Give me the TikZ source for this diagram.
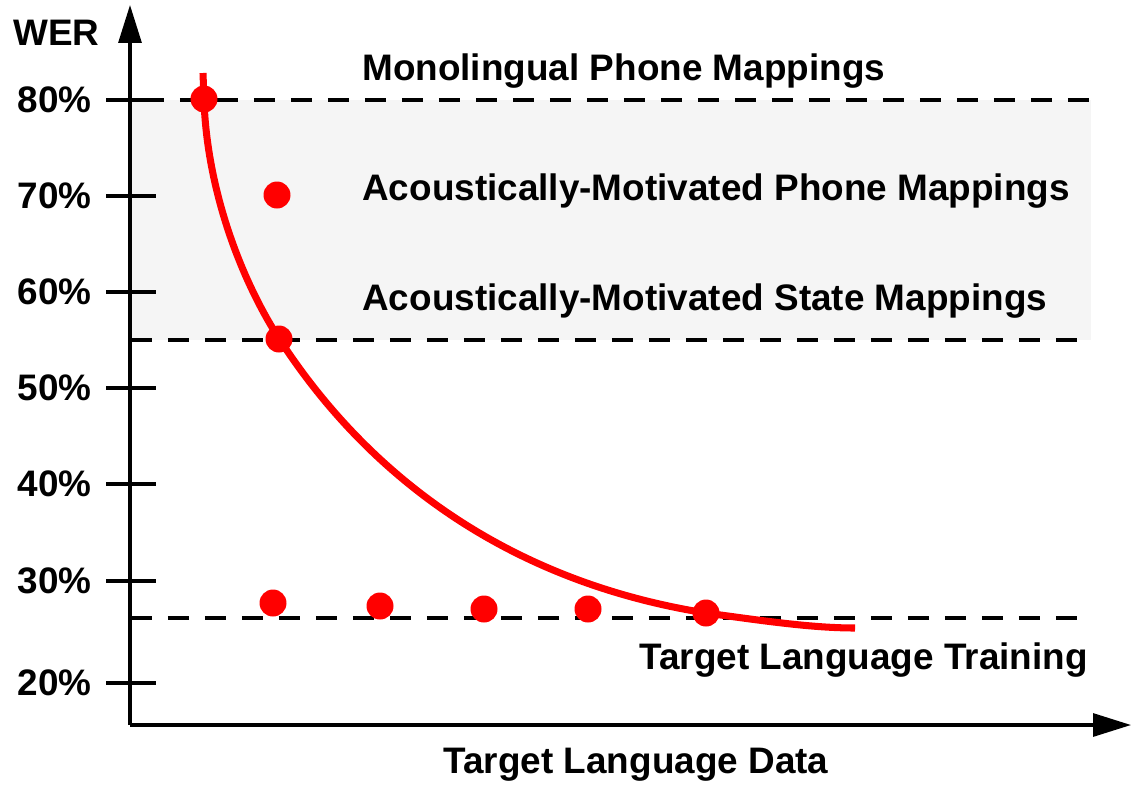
\documentclass[tikz,border=0pt]{standalone}
\usepackage{fontspec}
\setmainfont{Liberation Sans}
\usetikzlibrary{arrows.meta}
\definecolor{bandgray}{HTML}{F5F5F5}
\tikzset{
  lbl/.style={font=\fontsize{21}{25}\selectfont\bfseries, inner sep=0pt},
  werdot/.style={circle, fill=red, minimum size=0.54cm, inner sep=0pt},
  refline/.style={line width=2pt, dash pattern=on 0.42cm off 0.32cm},
  axis/.style={line width=1.8pt, -{Triangle[length=0.76cm,width=0.46cm]}}
}
\begin{document}
\begin{tikzpicture}[x=0.02cm, y=-0.02cm]
        % Page size
        \useasboundingbox (0,0) rectangle (1133,785);

        % Shaded band of the mapping methods
        \fill[bandgray] (131,100) rectangle (1091,340);

        % Reference levels
        \draw[refline] (106,100) -- (1091,100);
        \draw[refline] (131,340) -- (1091,340);
        \draw[refline] (131,618) -- (1091,618);

        % Axes
        \draw[axis] (130,725) -- (130,5);
        \draw[axis] (130,725) -- (1131,725);

        % Ticks and labels
        \foreach \yv/\pct in {100/80, 196/70, 292/60, 388/50, 484/40, 581/30, 683/20}
          \draw[line width=1.8pt] (106,\yv) -- (156,\yv) node[lbl, anchor=east] at (93,\yv) {\pct\%};

        \node[lbl, anchor=base west] (wer) at (13,45) {WER};
        \node[lbl, anchor=base] (xlab) at (636,773) {Target Language Data};

        % Method labels
        \node[lbl, anchor=base west] (mono) at (362,80) {Monolingual Phone Mappings};
        \node[lbl, anchor=base west] (amphone) at (362,200) {Acoustically-Motivated Phone Mappings};
        \node[lbl, anchor=base west] (amstate) at (362,310) {Acoustically-Motivated State Mappings};
        \node[lbl, anchor=base east] (target) at (1088,669) {Target Language Training};

        % Trend curve
        \draw[red, line width=4pt] (203,73) -- (204,100)
          .. controls (207,190) and (241,280) .. (280,340)
          .. controls (371,480) and (512,582) .. (706,613)
          .. controls (758,620) and (810,628) .. (855,628);

        % Results
        \node[werdot] (mono1) at (204,99) {};
        \node[werdot] (phone1) at (277,195) {};
        \node[werdot] (state1) at (279,339) {};
        \node[werdot] (tgt1) at (273,603) {};
        \node[werdot] (tgt2) at (380,606) {};
        \node[werdot] (tgt3) at (484,609) {};
        \node[werdot] (tgt4) at (588,609) {};
        \node[werdot] (tgt5) at (706,613) {};
\end{tikzpicture}
\end{document}
